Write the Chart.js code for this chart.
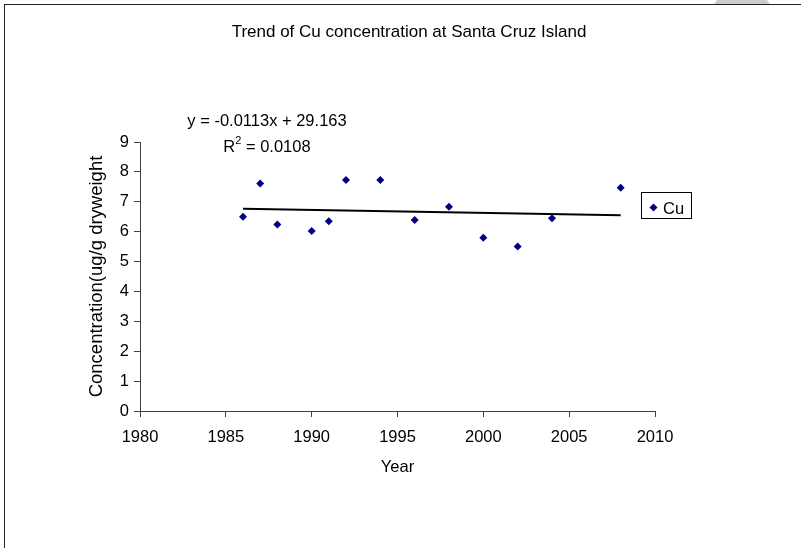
<!DOCTYPE html>
<html lang="en">
<head>
  <meta charset="UTF-8" />
  <title>Trend of Cu concentration at Santa Cruz Island</title>
  <style>
body {
    margin: 0;
    background: #fff;
    width: 801px;
    height: 548px;
    overflow: hidden;
    position: relative;
    font-family: 'Liberation Sans', Arial, sans-serif;
}

/* grey blob peeking above the frame, top right */
.blob {
    position: absolute;
    left: 710px;
    top: -12px;
    width: 64px;
    height: 64px;
    border-radius: 50%;
    background: #cdcdcd;
}

.frame {
    position: absolute;
    left: 4px;
    top: 4px;
    width: 900px;
    height: 700px;
    background: #fff;
    border-top: 1.5px solid #222;
    border-left: 1.5px solid #222;
}

canvas {
    position: absolute;
    left: 0;
    top: 0;
}
  </style>
</head>
<body>
  <div class="blob"></div>
  <div class="frame"></div>
  <canvas id="cuChart" width="801" height="548"></canvas>

  <script src="https://cdn.jsdelivr.net/npm/chart.js"></script>
  <script>
    // data
    const years = [1986, 1987, 1988, 1990, 1991, 1992, 1994, 1996, 1998, 2000, 2002, 2004, 2008];
    const cuValues = [6.50, 7.61, 6.24, 6.02, 6.35, 7.73, 7.73, 6.39, 6.83, 5.80, 5.50, 6.45, 7.47];

    // linear trend line end points (as drawn)
    const trendYears = [1986, 2008];
    const trendValues = [6.77, 6.55];

    const chartTitle = 'Trend of Cu concentration at Santa Cruz Island';
    const equationText = 'y = -0.0113x + 29.163';
    const r2Text = '0.0108';
    const seriesName = 'Cu';

    const FONT = "'Liberation Sans', Arial, sans-serif";
    const axisColor = '#404040';
    const pointColor = '#000080';

    const points = years.map((y, i) => ({ x: y, y: cuValues[i] }));
    const trend = trendYears.map((y, i) => ({ x: y, y: trendValues[i] }));

    // title, trendline label and legend box drawn by hand, Excel style
    const extraText = {
      id: 'extraText',
      afterDraw(chart) {
        const ctx = chart.ctx;
        ctx.save();
        ctx.fillStyle = '#000';
        ctx.textBaseline = 'alphabetic';

        ctx.font = '17px ' + FONT;
        ctx.textAlign = 'center';
        ctx.fillText(chartTitle, 409, 36.5);

        ctx.font = '16.5px ' + FONT;
        ctx.fillText(equationText, 267, 126);

        // R^2 line with a small superscript
        ctx.textAlign = 'left';
        const rLabel = 'R';
        const rest = ' = ' + r2Text;
        const wR = ctx.measureText(rLabel).width;
        const wRest = ctx.measureText(rest).width;
        ctx.font = '11px ' + FONT;
        const wSup = ctx.measureText('2').width;
        const startX = 267 - (wR + wSup + wRest) / 2;
        ctx.font = '16.5px ' + FONT;
        ctx.fillText(rLabel, startX, 151.5);
        ctx.fillText(rest, startX + wR + wSup, 151.5);
        ctx.font = '11px ' + FONT;
        ctx.fillText('2', startX + wR, 144);

        // legend
        ctx.strokeStyle = '#000';
        ctx.lineWidth = 1;
        ctx.strokeRect(641.5, 192.5, 50, 26);
        ctx.fillStyle = pointColor;
        ctx.beginPath();
        ctx.moveTo(653.5, 203.5);
        ctx.lineTo(657.5, 207.5);
        ctx.lineTo(653.5, 211.5);
        ctx.lineTo(649.5, 207.5);
        ctx.closePath();
        ctx.fill();
        ctx.fillStyle = '#000';
        ctx.font = '16.5px ' + FONT;
        ctx.fillText(seriesName, 663, 213.5);

        ctx.restore();
      }
    };

    const ctx = document.getElementById('cuChart').getContext('2d');

    new Chart(ctx, {
      type: 'scatter',
      data: {
        datasets: [
          {
            label: seriesName,
            data: points,
            pointStyle: 'rectRot',
            pointRadius: 4,
            pointHoverRadius: 4,
            backgroundColor: pointColor,
            borderColor: pointColor,
            borderWidth: 0
          },
          {
            label: 'Linear (Cu)',
            type: 'line',
            data: trend,
            borderColor: '#000',
            borderWidth: 2,
            pointRadius: 0,
            fill: false
          }
        ]
      },
      options: {
        responsive: false,
        animation: false,
        events: [],
        layout: {
          padding: { left: 85, right: 146, top: 142, bottom: 69 }
        },
        plugins: {
          legend: { display: false },
          tooltip: { enabled: false },
          title: { display: false }
        },
        scales: {
          x: {
            type: 'linear',
            min: 1980,
            max: 2010,
            afterFit(scale) { scale.height = 68; },
            border: { display: true, color: axisColor, width: 1 },
            grid: {
              drawOnChartArea: false,
              drawTicks: true,
              tickLength: 6,
              tickColor: axisColor
            },
            ticks: {
              stepSize: 5,
              padding: 11,
              color: '#000',
              font: { family: FONT, size: 16.5 },
              maxRotation: 0,
              callback: v => String(v)
            },
            title: {
              display: true,
              text: 'Year',
              color: '#000',
              font: { family: FONT, size: 16.5 },
              padding: { top: 0, bottom: 2 }
            }
          },
          y: {
            min: 0,
            max: 9,
            afterFit(scale) { scale.width = 55; },
            border: { display: true, color: axisColor, width: 1 },
            grid: {
              drawOnChartArea: false,
              drawTicks: true,
              tickLength: 6,
              tickColor: axisColor
            },
            ticks: {
              stepSize: 1,
              padding: 5,
              color: '#000',
              font: { family: FONT, size: 16.5 }
            },
            title: {
              display: true,
              text: 'Concentration(ug/g dryweight',
              color: '#000',
              font: { family: FONT, size: 18.5 },
              padding: { top: 1, bottom: 0 }
            }
          }
        }
      },
      plugins: [extraText]
    });
  </script>
</body>
</html>
